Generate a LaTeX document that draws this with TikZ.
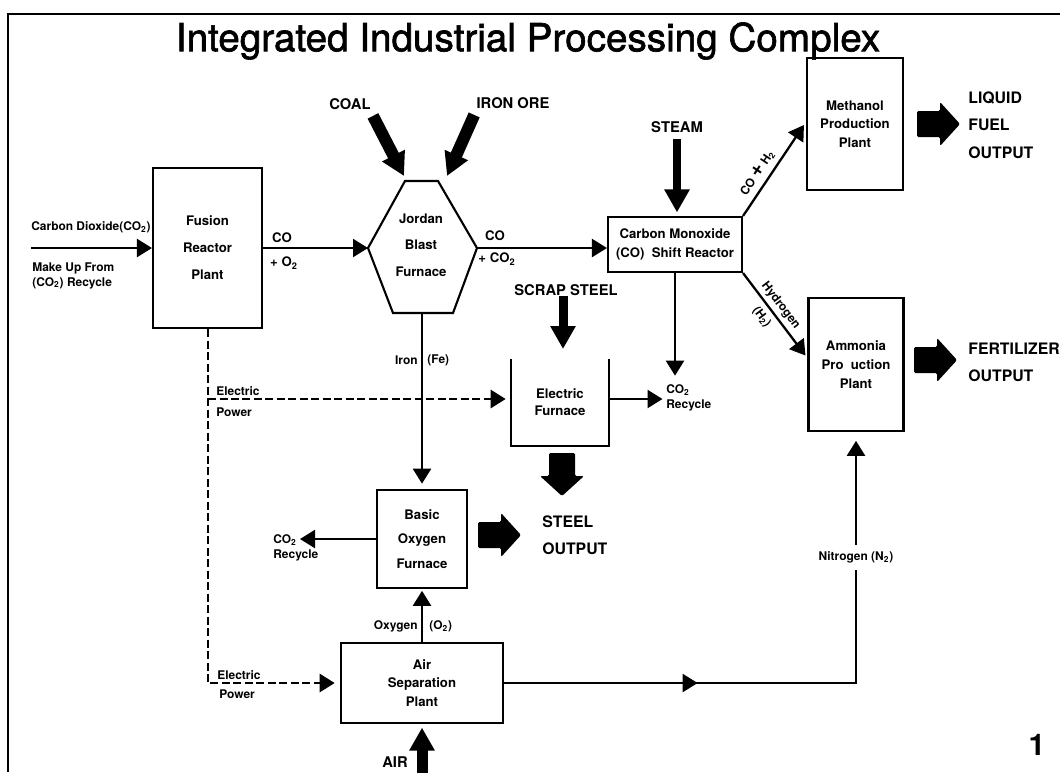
\documentclass[tikz,border=0pt]{standalone}
\usepackage{fontspec}
\setmainfont{TeX Gyre Heros}
\newfontfamily\titlefont[FakeBold=1.6]{TeX Gyre Heros}
\usetikzlibrary{arrows.meta,calc}

\tikzset{
  plant/.style={draw, line width=1.2pt, align=center, inner sep=0pt},
  pfont/.style={font=\fontsize{7.5}{#1}\selectfont\bfseries},
  lbl/.style={inner sep=0pt, align=left, font=\fontsize{6.8}{8.5}\selectfont\bfseries},
  feed/.style={inner sep=0pt, font=\fontsize{8.4}{10}\selectfont\bfseries},
  outlbl/.style={inner sep=0pt, align=left, font=\fontsize{9}{15.5}\selectfont\bfseries},
  flow/.style={line width=1.3pt, -{Triangle[length=0.3cm,width=0.36cm]}},
  power/.style={flow, line width=1.6pt, dash pattern=on 0.16cm off 0.07cm},
  bigflow/.style={line width=#1, -{Triangle[length=0.46cm,width=0.48cm]}},
  bigflow/.default=0.24cm,
  fatarrow/.pic={\fill[rounded corners=0.8pt] (0,-13) -- (23,-13) -- (23,-22) -- (43,0) -- (23,22) -- (23,13) -- (0,13) -- cycle;}
}

\begin{document}
\begin{tikzpicture}[x=0.02cm, y=-0.02cm]
\useasboundingbox (0,0) rectangle (1060,772);
% frame and title
\draw[line width=1.3pt] (1060,14) -- (8,14) -- (8,772);
\node[font=\titlefont\fontsize{22}{24}\selectfont] (title) at (528,41) {Integrated Industrial Processing Complex};

% plants
\node[plant, pfont=15.3, minimum width=2.18cm, minimum height=3.2cm] (fusion) at (207.5,248) {Fusion\\Reactor\\Plant};
\coordinate (jtl) at (405,181);
\coordinate (jtr) at (438,181);
\coordinate (jr) at (477,248);
\coordinate (jbr) at (453,313);
\coordinate (jbl) at (393,313);
\coordinate (jl) at (368,248);
\coordinate (jb) at (422,313);
\draw[line width=1.2pt] (jtl) -- (jtr) -- (jr) -- (jbr) -- (jbl) -- (jl) -- cycle;
\node[plant, draw=none, pfont=15] (jordan) at (421,245) {Jordan\\Blast\\Furnace};
\node[plant, pfont=10.8, minimum width=2.68cm, minimum height=1.1cm] (shift) at (675,244.5) {Carbon Monoxide\\(CO)\ \ Shift Reactor};
\node[plant, pfont=10.5, minimum width=1.92cm, minimum height=2.64cm] (methanol) at (855,124) {Methanol\\Production\\Plant};
\node[plant, pfont=10.8, minimum width=1.9cm, minimum height=2.66cm] (ammonia) at (856,364.5) {Ammonia\\Pro\ \ uction\\Plant};
\node[plant, draw=none, pfont=9.7, minimum width=1.92cm, minimum height=1.7cm] (efurn) at (560,402.5) {Electric\\Furnace};
\draw[line width=1.2pt] (efurn.north west) |- (efurn.south east) -- (efurn.north east);
\node[plant, pfont=14, minimum width=1.8cm, minimum height=1.96cm] (bof) at (422,539) {Basic\\Oxygen\\Furnace};
\node[plant, pfont=10.5, minimum width=3.24cm, minimum height=1.6cm] (air) at (422,683) {Air\\Separation\\Plant};

% feeds
\node[feed] (coal) at (350,104) {COAL};
\node[feed] (ironore) at (513,103) {IRON ORE};
\node[feed] (steam) at (677,127) {STEAM};
\node[feed] (scrap) at (566,290) {SCRAP STEEL};
\node[feed] (airin) at (395,762) {AIR};
\coordinate (coalend) at (404,176);
\coordinate (oreend) at (447,176);
\coordinate (scrapend) at (563,349);
\coordinate (airbot) at (425,775);
\draw[bigflow] ($(coal.south east)+(2,6)$) -- (coalend);
\draw[bigflow] ($(ironore.south west)+(-2,6)$) -- (oreend);
\draw[bigflow=0.17cm, shorten >=2pt] ($(steam.south)+(0,6)$) -- (steam.south |- shift.north);
\draw[bigflow=0.18cm] (scrap.south -| scrapend) -- (scrapend);
\draw[bigflow=0.22cm, shorten >=2pt] (air.south |- airbot) -- (air.south);

% carbon flows
\coordinate (cdin) at (31,248);
\draw[flow] (cdin) -- (fusion.west);
\node[lbl, anchor=west] (cdlbl) at (31,227) {Carbon Dioxide(CO\textsubscript{2})};
\node[lbl, anchor=north west] (mkup) at (32,262) {Make Up From\\(CO\textsubscript{2}) Recycle};
\draw[flow] (fusion.east) -- (jl);
\node[pfont=9] (co1) at (282,238) {CO};
\node[pfont=9] (o2) at (284,263) {+ O\textsubscript{2}};
\draw[flow] (jr) -- (jr -| shift.west);
\node[pfont=9] (co2) at (495,236) {CO};
\node[pfont=9] (co2b) at (497,259) {+ CO\textsubscript{2}};
\draw[flow] (shift.north east) -- node[lbl, sloped, above=3pt, pos=0.4] {CO {\large+} H\textsubscript{2}} ($(methanol.west)+(-2,1)$);
\draw[flow] (shift.south east) -- node[lbl, sloped, above=2pt, pos=0.47] {Hydrogen} node[lbl, sloped, below=3pt, pos=0.45] {(H\textsubscript{2})} ($(ammonia.west)+(-2,-9)$);

% outputs
\pic (fuelout) at (917,124) {fatarrow};
\pic (fertout) at (914,360) {fatarrow};
\pic (steelout) at (478,535) {fatarrow};
\pic[rotate=-90] (efout) at (562,453) {fatarrow};
\node[outlbl, anchor=west] (liquid) at (968,125) {LIQUID\\FUEL\\OUTPUT};
\node[outlbl, anchor=west] (fert) at (968,362) {FERTILIZER\\OUTPUT};
\node[outlbl, anchor=west] (steel) at (542,535) {STEEL\\OUTPUT};

% iron and steel
\draw[flow, shorten >=3pt] (jb) -- (bof.north);
\node[lbl, anchor=east] (iron) at (418,360) {Iron};
\node[lbl, anchor=west] (fe) at (427,360) {(Fe)};
\coordinate (pmid) at (208,399);
\node[lbl, anchor=west] (co2r) at (666,398) {CO\textsubscript{2}\\Recycle};
\draw[flow, shorten >=2pt] (pmid -| efurn.east) -- (pmid -| co2r.west);
\draw[flow, shorten >=5pt] (shift.south) -- (shift.south |- co2r.north);
\node[lbl, anchor=west] (co2l) at (273,548) {CO\textsubscript{2}\\Recycle};
\coordinate (bofout) at (300,539);
\draw[flow] (bof.west |- bofout) -- (bofout);

% electric power
\coordinate (pbus) at (208,683);
\draw[power, shorten >=3pt] (pbus |- fusion.south) -- (pbus) -- (air.west);
\draw[power, shorten >=3pt] (pmid) -- (pmid -| efurn.west);
\node[lbl, anchor=south west] (elec1) at (216,395.5) {Electric};
\node[lbl, anchor=north west] (pow1) at (216,407) {Power};
\node[lbl, anchor=south west] (elec2) at (217,680) {Electric};
\node[lbl, anchor=north west] (pow2) at (219,689) {Power};

% gases from air separation
\draw[flow, shorten >=1pt] (air.north) -- (bof.south);
\node[lbl, anchor=east] (oxy) at (418,626) {Oxygen};
\node[lbl, anchor=west] (o2b) at (429,626) {(O\textsubscript{2})};
\coordinate (nbend) at (ammonia.south |- air.east);
\draw[flow] (air.east) -- ($(air.east)!0.55!(nbend)$);
\draw[flow, shorten >=5pt] (air.east) -- (nbend) -- node[lbl, fill=white, inner sep=4pt] (nitro) {Nitrogen (N\textsubscript{2})} (ammonia.south);

\node[font=\fontsize{17}{17}\selectfont\bfseries] (pgno) at (1037,745) {1};
\end{tikzpicture}
\end{document}
